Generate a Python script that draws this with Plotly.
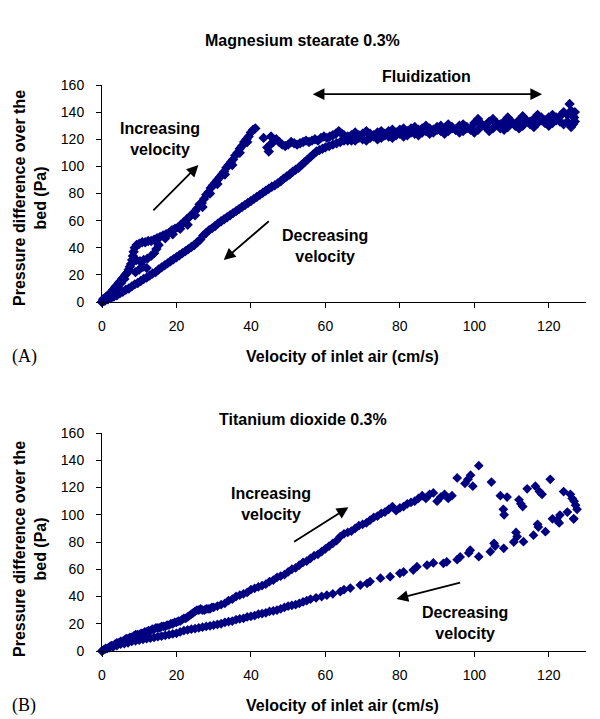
import plotly.graph_objects as go

NAVY = "#000080"
SANS = "Liberation Sans, Arial, sans-serif"

# ---------------- Panel A: Magnesium stearate 0.3% ----------------
ms_up_x = [0, 0.3, 0.6, 0.9, 1.2, 1.5, 1.8, 2.1, 2.4, 2.7, 3.0, 3.3, 3.6, 3.9, 4.2, 4.5, 4.8, 5.1, 5.4, 5.7,
           6.0, 6.3, 6.6, 6.9, 7.2, 7.5, 7.8,
           8.1, 8.3, 8.5, 8.8, 9.3, 10.0, 10.8, 11.6, 12.4, 13.2, 14.0, 14.8, 15.6, 16.4, 17.2, 18.0, 18.8,
           19.6, 20.4, 21.2, 22.0, 22.8, 23.6, 24.4, 25.0, 25.6, 26.2, 26.8, 27.4, 28.0, 28.6, 29.2, 29.8,
           30.4, 31.0, 31.6, 32.2, 32.8, 33.4, 34.0, 34.6, 35.2, 35.8, 36.4, 37.0, 37.6, 38.2, 38.8, 39.4,
           40.0, 40.6, 41.2,
           17.0, 19.0, 21.0, 23.0, 25.0, 27.0, 29.0, 31.0, 33.0, 35.0, 37.0, 39.0,
           9.2, 10.2, 11.2, 12.2, 13.2, 14.0, 14.6, 15.2, 9.0, 10.0, 11.0, 12.0,
           43.4, 44.4, 44.8, 45.2, 45.4, 46.0, 46.8, 47.6, 48.4, 49.2, 50.0, 50.8, 51.6, 52.4, 53.2, 54.0,
           54.8, 55.6, 56.4, 57.2, 58.0, 58.8, 59.6, 60.4, 61.2, 62.0, 62.8, 63.6, 64.4, 65.0, 66.0,
           67.0, 68.0, 69.0, 70.0, 71.0, 72.0, 73.0, 74.0, 75.0, 76.0, 77.0, 78.0, 79.0, 80.0, 81.0, 82.0,
           83.0, 84.0, 85.0, 86.0, 87.0, 88.0, 89.0, 90.0, 91.0, 92.0, 93.0, 94.0, 95.0, 96.0, 97.0, 98.0,
           99.0, 100.0, 101.0, 102.0, 103.0, 104.0, 105.0, 106.0, 107.0, 108.0, 109.0, 110.0, 111.0, 112.0,
           113.0, 114.0, 115.0, 116.0, 117.0, 118.0, 119.0, 120.0, 121.0, 122.0, 123.0, 124.0, 125.0, 125.6,
           126.0, 126.5, 127.0]
ms_up_y = [0, 2, 1, 3, 4, 3, 5, 6, 5, 8, 9, 8, 11, 12, 11, 14, 15, 14, 17, 18,
           17, 20, 21, 22, 24, 26, 28,
           31, 34, 37, 40, 42, 43, 44, 44, 45, 45, 46, 47, 48, 49, 50, 51, 53,
           54, 55, 57, 59, 61, 63, 65, 67, 69, 72, 73, 76, 79, 81, 84, 86,
           88, 90, 92, 94, 96, 99, 101, 103, 105, 108, 110, 113, 115, 118, 120, 122,
           125, 127, 128,
           47, 50, 54, 57, 64, 70, 80, 87, 94, 101, 110, 118,
           31, 30, 31, 32, 34, 36, 39, 42, 22, 24, 26, 25,
           121, 114, 111, 116, 122, 118, 120, 118, 116, 115, 116, 118, 117, 116, 117, 118,
           119, 118, 119, 120, 119, 121, 122, 121, 122, 123, 124, 126, 124, 123, 122,
           123, 125, 123, 124, 126, 124, 123, 125, 126, 124, 126, 127, 125, 127, 128, 126,
           128, 129, 127, 128, 130, 128, 127, 129, 130, 128, 131, 129, 127, 130, 131, 129,
           128, 132, 135, 131, 129, 133, 135, 131, 128, 133, 136, 132, 130, 134,
           137, 133, 131, 135, 138, 134, 132, 136, 138, 134, 137, 140, 138, 146,
           141, 137, 133]

ms_down_x = [127.0, 126.8, 126.5, 126.0, 125.0, 124.0, 123.0, 122.0, 121.0, 120.0, 119.0, 118.0, 117.0,
             116.0, 115.0, 114.0, 113.0, 112.0, 111.0, 110.0, 109.0, 108.0, 107.0, 106.0, 105.0, 104.0,
             103.0, 102.0, 101.0, 100.0, 99.0, 98.0, 97.0, 96.0, 95.0, 94.0, 93.0, 92.0, 91.0, 90.0, 89.0,
             88.0, 87.0, 86.0, 85.0, 84.0, 83.0, 82.0, 81.0, 80.0, 79.0, 78.0, 77.0, 76.0, 75.0, 74.0,
             73.0, 72.0, 71.0, 70.0, 69.0, 68.0, 67.0, 66.0, 65.0, 64.0, 63.0, 62.0, 61.0, 60.0, 59.2,
             58.4, 57.6, 56.8, 56.0, 55.2, 54.4, 53.6, 52.8, 52.0, 51.2, 50.4, 49.6, 48.8, 48.0, 47.2,
             46.4, 45.6, 44.8, 44.0, 43.2, 42.4, 41.6, 40.8, 40.0, 39.2, 38.4, 37.6, 36.8, 36.0, 35.2,
             34.4, 33.6, 32.8, 32.0, 31.2, 30.4, 29.6, 28.8, 28.0, 27.2, 26.4, 25.6, 24.8, 24.0, 23.2,
             22.4, 21.6, 20.8, 20.0, 19.2, 18.4, 17.6, 16.8, 16.0, 15.2, 14.4, 13.6, 12.8, 12.0, 11.2,
             10.4, 9.6, 8.8, 8.0, 7.2, 6.4, 5.6, 4.8, 4.0, 3.2, 2.4, 1.6, 0.8, 0]
ms_down_y = [140, 136, 131, 129, 133, 131, 133, 136, 132, 130, 134, 136, 132,
             129, 133, 134, 130, 128, 131, 133, 129, 127, 131, 132, 128, 126,
             130, 131, 127, 125, 127, 128, 126, 125, 127, 128, 126, 124, 126, 127, 125,
             124, 126, 125, 123, 124, 125, 123, 122, 124, 123, 121, 122, 123, 121, 120,
             122, 121, 119, 120, 121, 119, 119, 119, 119, 118, 117, 116, 115, 114, 113,
             112, 111, 109, 107, 105, 103, 101, 99, 97.5, 96, 94, 92.5, 91, 89, 87.5,
             86, 85, 83.5, 82, 80.5, 79, 77.5, 76, 74.5, 73, 71.5, 70, 68.5, 67, 65.5,
             64, 62.5, 61, 59.5, 58, 56, 54.5, 53, 51, 49, 46, 44, 42, 40.5, 39,
             37.5, 36, 34.5, 33, 31.5, 30, 28.5, 27, 25.5, 24, 22, 21, 19.5, 18, 17,
             15.5, 14, 13, 11.5, 10, 9, 7.5, 6.5, 5, 4, 3, 2, 1, 0]

# ---------------- Panel B: Titanium dioxide 0.3% ----------------
ti_up_x = [0, 0.5, 1, 1.5, 2, 2.5, 3, 3.5, 4, 4.5, 5, 5.5, 6, 6.5, 7, 7.5, 8, 8.5, 9, 9.5, 10, 10.5, 11,
           11.5, 12, 12.5, 13, 13.5, 14, 14.5, 15, 15.5, 16, 16.5, 17, 17.5, 18, 18.5, 19, 19.5, 20, 20.5,
           21, 21.5, 22, 22.5, 23, 23.5, 24, 24.5, 25, 25.5, 26, 26.5, 27, 27.5, 28, 28.5, 29, 29.5, 30,
           31, 32, 33, 34, 35, 36, 37, 38, 39, 40, 41, 42, 43, 44, 45, 46, 47, 48, 49, 50, 51, 52, 53,
           54, 55, 56, 57, 58, 59, 60, 61, 62, 63, 64, 65, 66, 67, 68, 69, 70, 71, 72, 73, 74, 75, 76,
           77, 78, 79, 80, 81, 82, 83, 84, 85, 86, 87, 88, 89, 90, 91, 92, 93, 94,
           95.4, 97.5, 98.3, 99.0, 99.6, 101.2, 104.6, 107.0, 107.8, 108.0, 108.8, 112.0, 112.5, 113.0,
           114.2, 116.4, 117.5, 118.2, 120.4, 124.0, 125.8, 126.3, 126.8, 127.2, 127.6, 126.7]
ti_up_y = [0, 1, 2, 2, 3, 4, 4, 5, 6, 6, 7, 7, 8, 9, 9, 10, 10, 11, 12, 12, 12, 13, 13,
           14, 14, 15, 15, 16, 16, 17, 17, 17, 18, 18, 18, 19, 19, 20, 20, 21, 21, 22,
           22, 23, 24, 24, 25, 26, 27, 28, 29, 30, 30, 31, 30, 30, 31, 31, 31, 32, 32,
           33, 34, 35, 37, 38, 40, 41, 42, 43, 45, 46, 47, 48, 49, 51, 52, 54, 55, 56, 58, 60, 61, 63,
           65, 66, 68, 70, 71, 73, 75, 77, 79, 81, 84, 86, 87, 88, 90, 92, 93, 94, 96, 98, 99, 101, 102,
           104, 106, 103, 105, 106, 108, 109, 110, 112, 114, 112, 115, 116, 110, 113, 115, 112, 114,
           127, 123, 126, 129, 121, 136, 124, 114, 104, 100, 113, 111, 108, 106,
           119, 121, 117, 115, 126, 117, 115, 112, 110, 107, 104, 97]

ti_down_x = [126.7, 125.0, 123.0, 122.2, 122.8, 121.0, 119.1, 117.0, 117.2, 115.9, 113.2, 111.2, 111.5,
             110.6, 107.9, 105.3, 105.6, 104.3, 101.2, 98.9, 98.5, 96.2, 95.4, 92.6, 91.7, 89.0, 87.3,
             84.6, 83.6, 81.0, 80.0, 77.4, 74.8, 72.0, 71.2, 69.4, 66.7, 65.0, 64.0, 62.0, 60.4, 59.0,
             57.5, 56.0, 55.0, 54.0, 53.0, 52.0, 51.0, 50.0, 49.0, 48.0, 47.0, 46.0, 45.0, 44.0, 43.0,
             42.0, 41.0, 40.0, 39.0, 38.0, 37.0, 36.0, 35.0, 34.0, 33.0, 32.0, 31.0, 30.0, 29.0, 28.0,
             27.0, 26.0, 25.0, 24.0, 23.0, 22.0, 21.0, 20.0, 19.0, 18.0, 17.0, 16.0, 15.0, 14.0, 13.0,
             12.0, 11.0, 10.0, 9.0, 8.0, 7.0, 6.0, 5.0, 4.0, 3.0, 2.0, 1.0, 0]
ti_down_y = [97, 102, 99.8, 96, 94, 97, 87.6, 93, 91, 85, 80.2, 87, 84,
             80, 75.4, 79, 77, 72.9, 69.2, 74, 72, 69, 67, 65.5, 64.4, 64.6, 63,
             61.9, 59.4, 58, 57, 54.5, 53.4, 51, 49.7, 48.4, 46.2, 45, 43.5, 42, 41, 40,
             39, 38, 37, 36, 35, 34, 33.5, 33, 32, 31, 30, 29.5, 29, 28, 27.5,
             27, 26, 25.5, 25, 24, 23.5, 23, 22, 21.5, 21, 20, 19.5, 19, 18.5, 18,
             17.5, 17, 16.5, 16, 15.5, 15, 14, 13, 12.5, 12, 11.5, 11, 10.5, 10, 9.5,
             9, 8.5, 8, 7.5, 7, 6, 5.5, 5, 4, 3, 2.5, 1.5, 0]

x_ticks = [0, 20, 40, 60, 80, 100, 120]
y_ticks = [0, 20, 40, 60, 80, 100, 120, 140, 160]

# ---------------- figure ----------------
fig = go.Figure()
for xs, ys, xa, ya, sz in [(ms_up_x, ms_up_y, "x", "y", 8), (ms_down_x, ms_down_y, "x", "y", 8),
                           (ti_up_x, ti_up_y, "x2", "y2", 7.5), (ti_down_x, ti_down_y, "x2", "y2", 7.5)]:
    fig.add_trace(go.Scatter(x=xs, y=ys, mode="markers",
                             marker=dict(symbol="diamond", size=sz, color=NAVY, line=dict(width=0)),
                             xaxis=xa, yaxis=ya, cliponaxis=False, hoverinfo="skip"))

axis_common = dict(showline=True, linecolor="black", linewidth=1, ticks="outside", ticklen=5,
                   tickcolor="black", tickwidth=1, showgrid=False, zeroline=False,
                   tickfont=dict(family=SANS, size=14, color="black"))
xa = dict(axis_common, range=[0, 130], tickvals=x_ticks, ticklabelstandoff=6)
ya = dict(axis_common, range=[0, 160], tickvals=y_ticks, ticklabelstandoff=9)

# page body has an 8px margin: the figure is drawn 8px in from the window's corner
PH = 566.0
def py(p):
    return (651 - p) / PH
def px(p):
    return (p - 102) / 484.0

fig.update_layout(
    width=592, height=711,
    margin=dict(l=94, r=14, t=77, b=68),
    paper_bgcolor="white", plot_bgcolor="white", showlegend=False,
    xaxis=dict(xa, domain=[0, 1], anchor="y"),
    yaxis=dict(ya, domain=[py(302), 1], anchor="x"),
    xaxis2=dict(xa, domain=[0, 1], anchor="y2"),
    yaxis2=dict(ya, domain=[0, py(433)], anchor="x2"),
)

bold = dict(family=SANS, size=16, color="black")
ann = []
# titles
ann.append(dict(text="<b>Magnesium stearate 0.3%</b>", x=px(302), y=py(40), xref="paper", yref="paper",
                showarrow=False, font=bold, xanchor="center", yanchor="middle"))
ann.append(dict(text="<b>Titanium dioxide 0.3%</b>", x=px(303), y=py(419), xref="paper", yref="paper",
                showarrow=False, font=bold, xanchor="center", yanchor="middle"))
# axis titles
for ytitle, ycen, xcen in [(356, 198, "A"), (705, 549, "B")]:
    ann.append(dict(text="<b>Velocity of inlet air (cm/s)</b>", x=px(342), y=py(ytitle), xref="paper",
                    yref="paper", showarrow=False, font=bold, xanchor="center", yanchor="middle"))
    ann.append(dict(text="<b>Pressure difference over the<br>bed (Pa)</b>", x=px(30), y=py(ycen),
                    xref="paper", yref="paper", showarrow=False, font=bold, textangle=-90,
                    xanchor="center", yanchor="middle", align="center"))
    ann.append(dict(text="(" + xcen + ")", x=px(24), y=py(ytitle), xref="paper", yref="paper",
                    showarrow=False, font=dict(family="Liberation Serif, Times New Roman, serif", size=18,
                                                color="black"),
                    xanchor="center", yanchor="middle"))

# panel A text
ann.append(dict(text="<b>Increasing<br>velocity</b>", x=15.7, y=120.2, xref="x", yref="y", showarrow=False,
                font=bold, align="center"))
ann.append(dict(text="<b>Decreasing<br>velocity</b>", x=60, y=41.3, xref="x", yref="y", showarrow=False,
                font=bold, align="center"))
ann.append(dict(text="<b>Fluidization</b>", x=px(426), y=py(77), xref="paper", yref="paper",
                showarrow=False, font=bold, xanchor="center", yanchor="middle"))
# panel B text
ann.append(dict(text="<b>Increasing<br>velocity</b>", x=45.5, y=107.9, xref="x2", yref="y2", showarrow=False,
                font=bold, align="center"))
ann.append(dict(text="<b>Decreasing<br>velocity</b>", x=97.4, y=20.9, xref="x2", yref="y2", showarrow=False,
                font=bold, align="center"))

arrow = dict(text="", showarrow=True, arrowhead=2, arrowsize=1.3, arrowwidth=1.8, arrowcolor="black",
             standoff=0, startstandoff=0)
ann.append(dict(arrow, x=25.9, y=101, ax=13.4, ay=66.4, xref="x", yref="y", axref="x", ayref="y"))
ann.append(dict(arrow, x=32.7, y=31, ax=45.2, ay=60.5, xref="x", yref="y", axref="x", ayref="y"))
ann.append(dict(arrow, x=118.2, y=153.2, ax=56.2, ay=153.2, xref="x", yref="y", axref="x", ayref="y",
                arrowside="end+start"))
ann.append(dict(arrow, x=66.2, y=105.5, ax=51.2, ay=79.5, xref="x2", yref="y2", axref="x2", ayref="y2"))
ann.append(dict(arrow, x=79.1, y=38.2, ax=96.6, ay=50.4, xref="x2", yref="y2", axref="x2", ayref="y2"))

fig.update_layout(annotations=ann)
fig.write_html("out.html")
